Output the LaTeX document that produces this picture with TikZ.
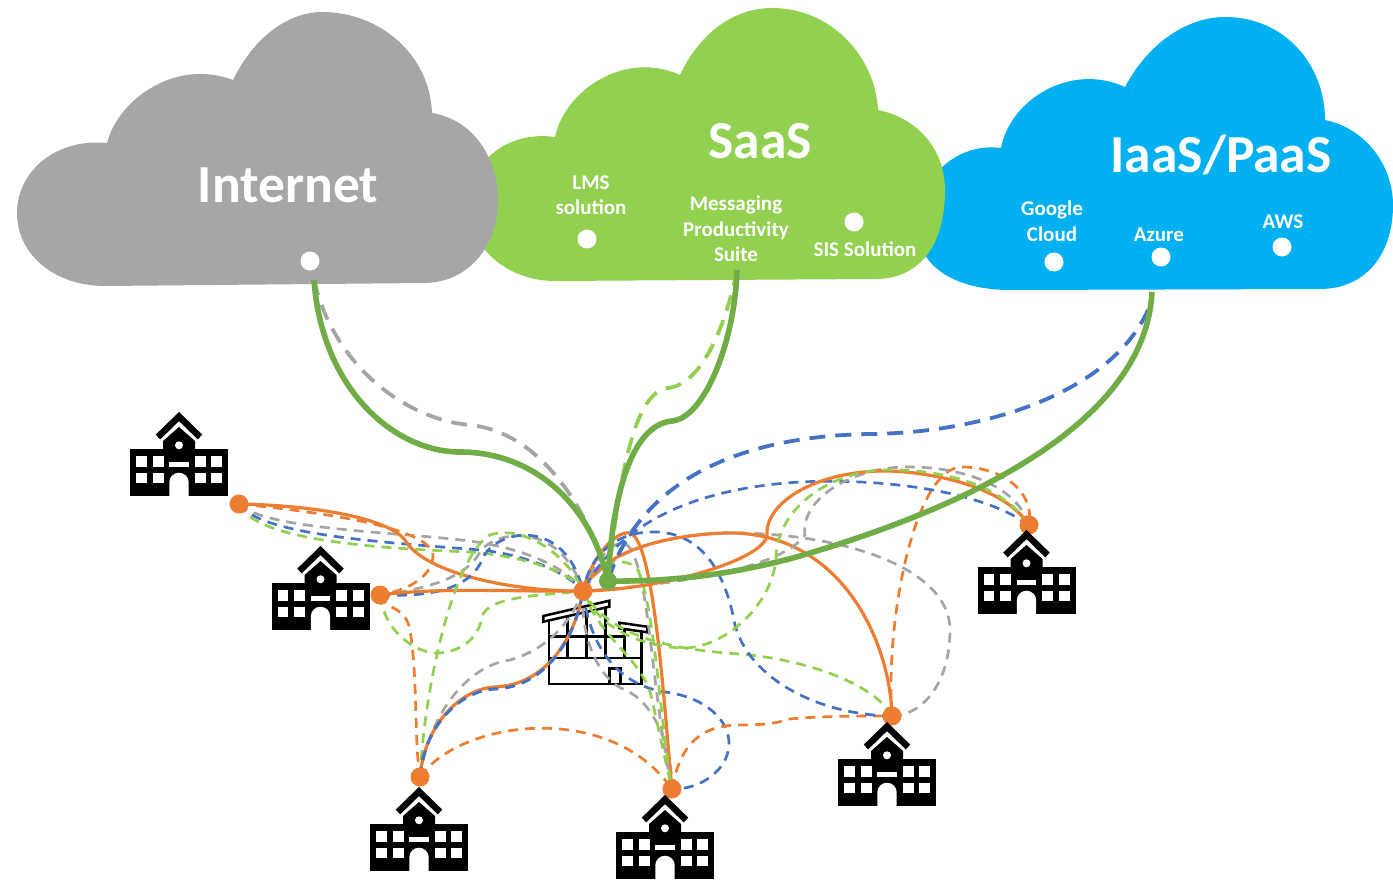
\documentclass[tikz,border=0pt]{standalone}
\usepackage{fontspec}
\setmainfont{Carlito}
\usetikzlibrary{backgrounds}

\definecolor{linkorange}{HTML}{ED7D31}
\definecolor{linkgreen}{HTML}{70AD47}
\definecolor{linklime}{HTML}{92D050}
\definecolor{linkblue}{HTML}{4472C4}
\definecolor{linkgray}{HTML}{A5A5A5}
\definecolor{cloudgray}{HTML}{A6A6A6}
\definecolor{cloudblue}{HTML}{00B0F0}

\tikzset{
  hubdot/.style={circle, fill=linkorange, inner sep=0pt, minimum size=19pt},
  updot/.style={circle, fill=linkgreen, inner sep=0pt, minimum size=18pt},
  portdot/.style={circle, fill=white, inner sep=0pt, minimum size=19pt},
  trunk/.style={line width=5.6pt, linkgreen},
  uplinkdash/.style={line width=3.8pt, dash pattern=on 16pt off 10pt},
  thinsolid/.style={line width=3.2pt, linkorange},
  thindash/.style={line width=2.7pt, dash pattern=on 10pt off 7pt},
  cloudtitle/.style={text=white, font=\bfseries\fontsize{53.5}{60}\selectfont},
  cloudlabel/.style={text=white, align=center, font=\bfseries\fontsize{21}{25.5}\selectfont},
  pics/school/.style={code={
    \fill[black] (-49,0) rectangle (49,-47);
    \fill[black] (-16,-47) -- (-16,-55) -- (0,-69) -- (16,-55) -- (16,-47) -- cycle;
    \draw[black, line width=6.5pt] (-21,-59) -- (0,-79.5) -- (21,-59);
    \foreach \xa in {-43,-26.3,15.7,32.4} \foreach \ya in {-40,-23.3}
      \fill[white] (\xa,\ya) rectangle ++(10.9,10.7);
    \fill[white] (-9.7,-34.3) rectangle (9.7,-28.7);
    \fill[white] (0,-50.7) circle[radius=4];
    \fill[white] (-9.7,0) rectangle (9.7,-13.6) (0,-13.6) circle[radius=9.7];
  }}
}

\begin{document}
\begin{tikzpicture}[x=1pt, y=-1pt]
\useasboundingbox (0,0) rectangle (1393,880);

% hubs and uplink
\node[hubdot] (core) at (583,591) {};
\node[updot] (uplink) at (608,581) {};
\node[hubdot] (siteA) at (239,504) {};
\node[hubdot] (siteB) at (380,595) {};
\node[hubdot] (siteC) at (1029,525) {};
\node[hubdot] (siteD) at (892,716) {};
\node[hubdot] (siteE) at (420,777) {};
\node[hubdot] (siteF) at (672,789) {};

\coordinate (inetPort) at (314,280);
\coordinate (saasPort) at (737,270);
\coordinate (iaasPort) at (1152,292);
\coordinate (iaasDash) at (1148,310);

% schools
\pic at (179,496) {school};
\pic at (320.5,630) {school};
\pic at (1026.5,614) {school};
\pic at (887,806) {school};
\pic at (419,871) {school};
\pic at (665,879) {school};

\begin{scope}[on background layer]
% clouds
\fill[cloudblue] (1010,290) .. controls (960,290) and (917,270) .. (917,225) .. controls (917,180) and (955,142) .. (1001,148)
  .. controls (1010,100) and (1070,62) .. (1125,87) .. controls (1150,40) and (1190,17) .. (1225,17)
  .. controls (1285,17) and (1325,65) .. (1325,120) .. controls (1365,128) and (1393,165) .. (1393,205)
  .. controls (1393,255) and (1365,289) .. (1320,289) -- cycle;
\fill[linklime] (555,281) .. controls (505,281) and (468,245) .. (468,205) .. controls (468,165) and (505,130) .. (555,137)
  .. controls (565,90) and (625,50) .. (680,75) .. controls (700,32) and (735,8) .. (772,8)
  .. controls (830,8) and (875,55) .. (878,110) .. controls (918,118) and (945,150) .. (945,190)
  .. controls (945,245) and (920,279) .. (875,279) -- cycle;
\fill[cloudgray] (105,286) .. controls (55,286) and (17,255) .. (17,213) .. controls (17,172) and (55,138) .. (107,143)
  .. controls (118,100) and (175,58) .. (233,80) .. controls (255,35) and (290,12) .. (322,12)
  .. controls (380,12) and (430,55) .. (432,113) .. controls (475,120) and (498,160) .. (498,200)
  .. controls (498,245) and (470,282) .. (425,283) -- cycle;

% main building
\draw[black, line width=2.5pt] (549,621) -- (549,684) -- (641.7,684) -- (641.7,632)
  (549,658) -- (641.7,658) (549,636.7) -- (624.3,636.7)
  (567.7,658) -- (567.7,617) (586.7,658) -- (586.7,612) (605.7,658) -- (605.7,607)
  (624.3,658) -- (624.3,629) (609.3,684) -- (609.3,668.3) -- (620.7,668.3) -- (620.7,684);
\draw[black, line width=2.5pt, fill=white] (543.3,616) -- (609.3,600.7) -- (609.3,606.7) -- (543.3,621.7) -- cycle;
\draw[black, line width=2.5pt, fill=white] (619.3,622.7) -- (647.3,626.7) -- (647.3,632.3) -- (619.3,628.3) -- cycle;

% site A
\draw[thindash, linkgray] (siteA.center) .. controls (265,530) and (400,532) .. (470,541) .. controls (520,548) and (565,565) .. (core.center);
\draw[thindash, linkblue] (siteA.center) .. controls (260,535) and (380,542) .. (480,550) .. controls (530,555) and (570,575) .. (core.center);
\draw[thindash, linklime] (siteA.center) .. controls (255,540) and (370,548) .. (470,552) .. controls (520,556) and (570,570) .. (core.center);
\draw[thindash, linkorange] (siteA.center) .. controls (300,510) and (430,525) .. (433,555) .. controls (433,580) and (400,592) .. (siteB.center);
\draw[thinsolid] (siteA.center) .. controls (300,505) and (385,515) .. (405,540) .. controls (425,575) and (520,592) .. (core.center);

% site B
\draw[thindash, linkgray] (siteB.center) .. controls (420,590) and (465,580) .. (480,552) .. controls (495,530) and (560,520) .. (core.center);
\draw[thindash, linkblue] (siteB.center) .. controls (430,597) and (470,590) .. (483,558) .. controls (495,530) and (565,515) .. (core.center);
\draw[thindash, linklime] (siteB.center) .. controls (385,635) and (420,655) .. (440,653) .. controls (470,650) and (480,630) .. (482,617) .. controls (487,595) and (550,595) .. (core.center);
\draw[thindash, linkorange] (siteB.center) .. controls (388,612) and (405,605) .. (410,630) .. controls (418,680) and (414,740) .. (siteE.center);
\draw[thinsolid] (siteB.center) .. controls (440,587) and (520,592) .. (core.center);

% site E
\draw[thindash, linklime] (siteE.center) .. controls (425,680) and (455,555) .. (490,535) .. controls (520,525) and (565,550) .. (core.center);
\draw[thindash, linkgray] (siteE.center) .. controls (430,710) and (470,665) .. (510,660) .. controls (545,650) and (570,625) .. (core.center);
\draw[thindash, linkorange] (siteE.center) .. controls (460,720) and (610,700) .. (siteF.center);
\draw[thinsolid] (siteE.center) .. controls (425,720) and (465,688) .. (495,687) .. controls (545,685) and (575,640) .. (core.center);
\draw[thindash, linkblue, line width=3pt] (siteE.center) .. controls (425,720) and (465,690) .. (495,689) .. controls (545,687) and (575,640) .. (core.center);

% site F
\draw[thindash, linkblue] (core.center) .. controls (590,650) and (620,685) .. (665,692) .. controls (705,697) and (730,720) .. (729,745) .. controls (728,770) and (700,790) .. (siteF.center);
\draw[thindash, linkgray] (core.center) .. controls (580,640) and (600,680) .. (625,690) .. controls (650,700) and (672,740) .. (siteF.center);
\draw[thindash, linklime] (core.center) .. controls (600,640) and (645,660) .. (652,700) .. controls (660,735) and (665,760) .. (siteF.center);
\draw[thinsolid] (core.center) .. controls (590,560) and (615,530) .. (630,533) .. controls (655,540) and (665,720) .. (siteF.center);
\draw[thindash, linkgray] (core.center) .. controls (600,550) and (620,535) .. (630,548) .. controls (650,580) and (650,680) .. (siteF.center);
\draw[thindash, linklime] (core.center) .. controls (600,560) and (625,555) .. (638,570) .. controls (655,610) and (660,720) .. (siteF.center);
\draw[thindash, linkorange] (siteF.center) .. controls (680,745) and (700,725) .. (740,725) .. controls (770,725) and (780,722) .. (790,719) .. controls (820,716) and (860,716) .. (siteD.center);

% site D
\draw[thindash, linkgray] (siteD.center) .. controls (925,715) and (950,680) .. (950,630) .. controls (950,570) and (850,535) .. (740,533) .. controls (680,532) and (610,545) .. (core.center);
\draw[thindash, linklime] (siteD.center) .. controls (875,685) and (810,660) .. (740,654) .. controls (680,650) and (610,640) .. (core.center);
\draw[thindash, linkblue] (siteD.center) .. controls (820,715) and (750,680) .. (735,625) .. controls (725,570) and (700,530) .. (650,532) .. controls (615,533) and (590,555) .. (core.center);
\draw[thindash, linkorange] (siteD.center) .. controls (885,620) and (915,467) .. (962,467) .. controls (1000,467) and (1035,490) .. (siteC.center);
\draw[thinsolid] (siteD.center) .. controls (890,640) and (840,530) .. (725,533) .. controls (670,535) and (600,550) .. (core.center);

% site C
\draw[thindash, linkblue] (siteC.center) .. controls (980,490) and (880,478) .. (800,482) .. controls (700,488) and (620,520) .. (core.center);
\draw[thindash, linkgray] (siteC.center) .. controls (1015,480) and (950,466) .. (905,467) .. controls (850,468) and (800,500) .. (805,535) .. controls (780,570) and (670,585) .. (core.center);
\draw[thinsolid] (siteC.center) .. controls (1000,480) and (910,470) .. (880,471) .. controls (810,473) and (765,505) .. (767,535) .. controls (765,560) and (660,590) .. (core.center);
\draw[thindash, linklime] (siteC.center) .. controls (1000,480) and (930,468) .. (880,470) .. controls (820,475) and (775,515) .. (776,560) .. controls (770,610) and (720,650) .. (680,648) .. controls (640,645) and (600,630) .. (core.center);

% uplinks
\draw[uplinkdash, linkgray] (inetPort) .. controls (335,370) and (410,420) .. (470,425) .. controls (540,432) and (590,510) .. (uplink.center);
\draw[uplinkdash, linklime] (saasPort) .. controls (725,330) and (700,385) .. (668,388) .. controls (635,392) and (620,470) .. (uplink.center);
\draw[uplinkdash, linkblue] (iaasDash) .. controls (1110,395) and (980,433) .. (870,434) .. controls (740,436) and (640,480) .. (uplink.center);
\draw[trunk] (inetPort) .. controls (322,390) and (395,452) .. (460,452) .. controls (530,452) and (590,500) .. (uplink.center);
\draw[trunk] (saasPort) .. controls (735,340) and (705,418) .. (672,421) .. controls (630,425) and (612,500) .. (uplink.center);
\draw[trunk] (iaasPort) .. controls (1145,430) and (950,510) .. (820,550) .. controls (750,572) and (680,582) .. (uplink.center);
\end{scope}

% cloud labels
\node[cloudtitle] (inetTitle) at (288,185) {Internet};
\node[cloudtitle] (saasTitle) at (760,141) {SaaS};
\node[cloudtitle] (iaasTitle) at (1221,155) {IaaS/PaaS};
\node[cloudlabel] (lmsLabel) at (591,195) {LMS\\solution};
\node[cloudlabel] (mailLabel) at (736,229) {Messaging\\Productivity\\Suite};
\node[cloudlabel] (sisLabel) at (865,249) {SIS Solution};
\node[cloudlabel] (gcpLabel) at (1052,221) {Google\\Cloud};
\node[cloudlabel] (azureLabel) at (1159,235) {Azure};
\node[cloudlabel] (awsLabel) at (1283,222) {AWS};

\node[portdot] (inetDot) at (310,261) {};
\node[portdot] (lmsDot) at (587,239) {};
\node[portdot] (sisDot) at (854,222) {};
\node[portdot] (gcpDot) at (1054,262) {};
\node[portdot] (azureDot) at (1161,257) {};
\node[portdot] (awsDot) at (1282,247) {};
\end{tikzpicture}
\end{document}
